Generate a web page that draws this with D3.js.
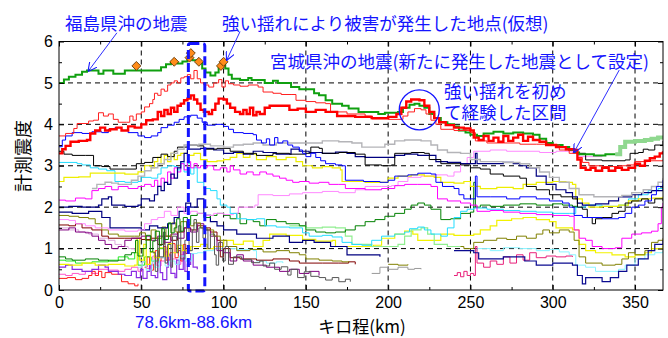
<!DOCTYPE html>
<html>
<head>
<meta charset="utf-8">
<script src="https://cdn.jsdelivr.net/npm/d3@7"></script>
<style>
  body { margin: 0; background: #fff; }
  text { font-family: "Liberation Sans", Arial, sans-serif; }
  .jp { font-family: "Noto Sans CJK JP", sans-serif; }
  .jp-tight { font-family: "Liberation Sans", "Noto Sans CJK JP", sans-serif; }
</style>
</head>
<body>
<div id="chart"></div>
<script>
// ---- data: [km, seismic intensity] ----
const xTicks = [0, 50, 100, 150, 200, 250, 300, 350];
const yTicks = [0, 1, 2, 3, 4, 5, 6];

const greenFukushima = [[0,5.0],[3,5.08],[6,5.15],[10,5.2],[14,5.27],[17,5.3],[22,5.3],[24,5.22],[27,5.3],[31,5.3],[33,5.22],[38,5.22],[40,5.3],[47,5.3],[52,5.3],[57,5.3],[62,5.38],[65,5.45],[68,5.5],[72,5.47],[75,5.52],[78,5.6],[81,5.55],[84,5.48],[87,5.35],[89,5.25],[92,5.18],[95,5.25],[97,5.38],[99,5.45],[101,5.35],[103,5.2],[105,5.1],[110,5.07],[115,5.12],[117,5.07],[125,5.0],[130,5.05],[133,5.0],[141,4.9],[146,4.85],[152,4.85],[155,4.75],[158,4.7],[162,4.58],[166,4.5],[172,4.45],[176,4.38],[182,4.3],[190,4.3],[194,4.25],[198,4.28],[206,4.3],[209,4.4],[213,4.47],[216,4.5],[219,4.45],[222,4.4],[225,4.25],[228,4.15],[232,4.05],[236,4.0],[240,3.95],[243,3.85],[247,3.8],[250,3.75],[254,3.72],[258,3.78],[264,3.82],[270,3.78],[276,3.8],[282,3.78],[288,3.75],[292,3.65],[296,3.55],[300,3.5],[306,3.45],[310,3.38],[313,3.32],[316,3.28],[325,3.25],[332,3.28],[338,3.28]];
const greenFukushimaEnd = [[338,3.28],[341,3.45],[344,3.58],[350,3.6],[356,3.62],[360,3.65],[364,3.68],[367,3.72]];
const redMiyagiThick = [[0,3.3],[2,3.4],[4,3.48],[7,3.58],[12,3.6],[17,3.62],[19,3.78],[22,3.85],[25,3.92],[28,3.85],[31,3.88],[35,3.92],[38,3.85],[42,3.95],[46,3.92],[50,4.0],[53,4.1],[57,4.12],[60,4.3],[62,4.2],[64,4.35],[66,4.25],[68,4.4],[70,4.3],[72,4.45],[74,4.5],[76,4.58],[78,4.62],[80,4.7],[82,4.6],[84,4.5],[86,4.35],[88,4.3],[91,4.25],[93,4.35],[95,4.5],[97,4.62],[100,4.6],[102,4.5],[104,4.4],[107,4.3],[110,4.25],[112,4.35],[114,4.25],[116,4.4],[118,4.22],[120,4.3],[122,4.25],[125,4.4],[128,4.45],[135,4.45],[140,4.35],[145,4.38],[150,4.3],[156,4.35],[162,4.3],[169,4.2],[180,4.18],[190,4.15],[200,4.18],[205,4.25],[208,4.4],[211,4.55],[214,4.6],[219,4.58],[222,4.45],[225,4.3],[228,4.15],[231,4.05],[235,3.98],[240,3.92],[246,3.9],[250,3.85],[252,3.68],[255,3.62],[258,3.72],[261,3.6],[264,3.68],[267,3.58],[270,3.72],[273,3.6],[276,3.68],[279,3.75],[282,3.6],[285,3.7],[288,3.62],[292,3.58],[296,3.5],[302,3.45],[308,3.4],[313,3.38],[315,3.15],[317,2.95],[320,2.9],[323,2.95],[326,2.88],[330,2.95],[334,2.88],[338,2.95],[342,2.9],[346,2.95],[350,3.05],[353,3.0],[356,3.12],[359,3.18],[362,3.22],[365,3.3],[367,3.35]];
const redThin = [[0,3.72],[4,3.78],[9,3.9],[11,4.02],[18,4.08],[21,4.1],[24,4.28],[27,4.2],[30,4.25],[33,4.12],[36,4.05],[41,4.05],[43,4.2],[45,4.1],[47,4.25],[50,4.3],[52,4.42],[55,4.5],[57,4.6],[58,4.75],[60,4.7],[62,4.85],[64,4.8],[66,4.95],[68,5.0],[70,5.05],[72,5.0],[74,5.12],[76,5.15],[78,5.2],[80,5.1],[82,5.3],[84,5.1],[86,5.0],[88,4.95],[91,4.9],[94,5.0],[97,5.08],[99,4.9],[101,5.05],[103,4.98],[106,4.95],[110,4.92],[115,4.95],[121,4.9],[124,4.78],[130,4.75],[135,4.72],[141,4.72],[144,4.58],[150,4.55],[156,4.52],[162,4.5],[165,4.3],[175,4.25],[186,4.2],[190,4.13],[200,4.12],[206,4.12],[209,4.2],[212,4.3],[216,4.38],[220,4.35],[223,4.25],[226,4.1],[229,4.0],[232,3.88],[240,3.85],[250,3.8],[253,3.6],[260,3.55],[270,3.55],[280,3.52],[290,3.52],[298,3.5],[304,3.38],[310,3.3],[315,3.2],[318,3.08],[322,3.0],[330,2.98],[340,3.0],[345,3.02],[350,3.1],[358,3.12],[367,3.15]];
const blueLine = [[0,3.46],[2,3.62],[4,3.72],[8,3.8],[14,3.78],[20,3.82],[26,3.8],[30,3.88],[34,3.92],[38,3.85],[42,3.8],[48,3.72],[52,3.68],[56,3.72],[60,3.8],[62,3.92],[66,3.98],[70,4.05],[73,4.12],[76,4.18],[80,4.22],[84,4.15],[87,4.05],[90,3.98],[95,4.0],[100,3.95],[103,3.88],[106,3.8],[112,3.78],[118,3.75],[120,3.62],[123,3.55],[126,3.65],[128,3.5],[131,3.68],[133,3.55],[136,3.6],[139,3.5],[142,3.45],[146,3.38],[148,3.3],[150,3.22],[153,3.3],[156,3.2],[159,3.12],[162,3.05],[168,3.02],[172,3.0],[174,2.65],[185,2.62],[195,2.6],[200,2.65],[204,2.75],[212,2.78],[218,2.82],[226,2.8],[229,2.6],[233,2.5],[240,2.45],[243,2.3],[246,2.2],[251,2.2],[253,2.75],[254,2.25],[262,2.25],[272,2.2],[280,2.25],[290,2.2],[298,2.15],[306,2.1],[310,2.0],[313,1.8],[318,1.75],[330,1.72],[340,1.75],[344,1.85],[348,2.0],[352,2.05],[356,2.15],[360,2.3],[363,2.5],[367,2.65]];
const grayLine = [[20,2.45],[23,2.55],[28,2.6],[32,2.58],[36,2.55],[44,2.65],[48,2.75],[52,2.88],[56,2.95],[60,3.05],[64,3.15],[68,3.3],[72,3.4],[76,3.5],[85,3.52],[92,3.48],[100,3.45],[106,3.5],[112,3.52],[118,3.55],[124,3.5],[132,3.55],[140,3.55],[150,3.55],[160,3.6],[170,3.58],[178,3.55],[184,3.45],[192,3.45],[198,3.52],[204,3.6],[210,3.62],[220,3.6],[226,3.5],[230,3.38],[236,3.32],[244,3.3],[250,3.15],[256,3.1],[270,3.08],[280,3.05],[286,2.95],[292,2.85],[298,2.72],[304,2.6],[310,2.45],[316,2.3],[325,2.25],[335,2.25],[342,2.28],[348,2.35],[355,2.42],[360,2.5],[364,2.6],[367,2.7]];
const blackUpper = [[0,3.35],[3,3.28],[8,3.25],[16,3.25],[21,3.0],[26,2.98],[31,2.92],[40,2.92],[47,3.05],[52,3.08],[57,3.2],[62,3.28],[66,3.22],[70,3.35],[72,3.45],[78,3.5],[84,3.48],[88,3.4],[96,3.42],[104,3.35],[112,3.3],[120,3.25],[130,3.3],[140,3.28],[150,3.3],[153,3.45],[158,3.42],[160,3.3],[170,3.32],[180,3.28],[186,3.02],[196,3.0],[202,3.02],[204,3.3],[214,3.32],[222,3.3],[225,3.15],[232,3.05],[244,3.02],[250,2.95],[256,2.92],[262,2.8],[270,2.75],[280,2.7],[284,2.5],[290,2.42],[298,2.3],[305,2.25],[312,2.2],[315,2.0],[318,1.95],[321,1.75],[324,1.6],[326,1.72],[330,1.75],[336,1.85],[340,1.9],[344,2.1],[348,2.15],[354,2.2],[358,2.1],[362,2.2],[367,2.15]];
const blackRight = [[316,3.3],[320,3.14],[330,3.12],[344,3.14],[347,3.3],[352,3.32],[355,3.4],[358,3.38],[362,3.5],[367,3.6]];
const navyUpper = [[0,2.0],[6,2.02],[14,2.0],[24,2.05],[26,2.2],[30,2.25],[32,2.05],[40,2.02],[48,2.05],[50,2.2],[55,2.15],[58,2.3],[60,2.5],[62,2.4],[64,2.6],[66,2.55],[68,2.8],[70,2.7],[72,2.95],[74,3.1],[76,3.3],[78,3.4],[86,3.42],[94,3.38],[100,3.3],[106,3.32],[112,3.28],[118,3.35],[124,3.32],[132,3.28],[141,3.4],[146,3.35],[152,3.32],[160,3.3],[168,3.33],[175,3.3],[180,3.22],[186,3.2],[196,3.2],[204,3.25],[210,3.28],[218,3.25],[226,3.25],[229,3.1],[236,3.08],[244,3.05],[250,3.05],[253,3.3],[254,3.05],[262,3.05],[270,3.08],[276,3.05],[280,3.0],[284,2.95],[290,2.75],[296,2.55],[302,2.42],[308,2.35],[312,2.25],[315,2.1],[318,2.05],[326,2.08],[334,2.15],[340,2.25],[348,2.3],[354,2.35],[360,2.4],[367,2.55]];
const navyLower = [[0,1.88],[8,1.85],[18,1.9],[26,1.75],[31,1.5],[50,1.45],[55,1.55],[60,1.5],[66,1.6],[70,1.75],[73,1.9],[77,2.1],[80,2.0],[84,2.2],[88,1.8],[92,1.65],[96,1.55],[100,1.45],[108,1.35],[120,1.25],[130,1.3],[140,1.15],[148,1.2],[155,1.15],[165,1.05],[175,0.85],[190,0.85],[195,0.8]];
const navyRight = [[240,0.95],[252,0.9],[255,0.75],[270,0.8],[283,0.7],[290,0.6],[300,0.65],[312,0.6],[315,0.35],[318,0.15],[320,0.3],[330,0.2],[335,0.3],[340,0.45],[345,0.6],[352,0.75],[358,0.95],[362,1.1],[367,1.2]];
const yellowUpper = [[0,2.62],[3,2.72],[12,2.73],[19,2.82],[30,2.82],[40,2.8],[48,2.85],[52,3.0],[56,2.95],[58,3.1],[60,3.2],[62,3.05],[64,3.25],[66,3.1],[68,3.3],[70,3.15],[72,3.25],[74,3.3],[78,3.25],[82,3.3],[86,3.15],[90,3.1],[96,3.12],[100,3.15],[104,3.2],[108,3.3],[112,3.2],[116,3.28],[120,3.15],[126,3.22],[132,3.15],[138,3.2],[144,3.1],[148,3.0],[154,2.95],[160,2.98],[166,2.95],[171,2.9],[172,2.62],[186,2.6],[196,2.6],[200,2.7],[206,2.75],[214,2.78],[222,2.75],[228,2.72],[232,2.6],[240,2.58],[246,2.62],[250,2.5],[256,2.45],[266,2.48],[276,2.45],[282,2.55],[290,2.6],[300,2.62],[308,2.6],[312,2.55],[314,2.2],[318,2.1],[322,2.0],[330,2.02],[340,2.05],[346,2.15],[352,2.2],[360,2.22],[367,2.25]];
const yellowLower = [[0,0.62],[6,0.6],[14,0.65],[22,0.6],[30,0.62],[40,0.58],[46,0.6],[47.5,1.25],[49,0.72],[51.5,1.1],[53,0.62],[55.5,0.92],[58,0.78],[61,1.02],[64,0.82],[66.5,1.12],[69,0.9],[72,1.08],[75,0.95],[80,1.05],[86,1.1],[90,1.0],[94,1.05],[100,1.2],[106,1.1],[112,1.18],[118,1.05],[124,1.2],[128,1.35],[138,1.32],[148,1.22],[156,1.18],[166,1.2],[168,1.05],[180,1.05],[191,1.08],[196,1.25],[204,1.35],[210,1.42],[215,1.35],[218,1.2],[226,1.2],[232,1.35],[240,1.32],[252,1.35],[256,1.45],[262,1.55],[266,1.68],[275,1.72],[282,1.75],[290,1.7],[298,1.65],[302,1.5],[312,1.45],[316,1.1],[320,0.95],[326,0.9],[336,0.85],[344,0.8],[350,0.85],[356,0.9],[360,1.0],[367,1.1]];
const cyanUpper = [[0,3.08],[11,3.05],[14,3.02],[19,2.95],[24,2.92],[29,2.88],[34,2.62],[40,2.6],[48,2.62],[50,2.72],[56,2.7],[60,2.8],[62,2.95],[66,3.0],[70,2.98],[72,2.9],[74,3.1],[76,2.85],[78,3.05],[80,2.8],[82,2.95],[84,2.6],[88,2.45],[92,2.4],[96,2.2],[98,2.05],[102,2.0],[104,1.85],[108,1.72],[114,1.7],[120,1.72],[125,1.55],[132,1.52],[140,1.5],[148,1.38],[152,1.3],[160,1.32],[166,1.28],[172,1.15],[178,1.1],[184,1.08],[190,1.2],[196,1.3],[204,1.35],[210,1.4],[213,1.48],[218,1.52],[222,1.45],[226,1.35],[232,1.3],[236,1.5],[240,1.75],[244,1.9],[248,1.95],[252,1.98],[260,1.95],[270,1.92],[280,1.9],[290,1.88],[300,1.85],[310,1.85],[314,2.0],[320,2.05],[330,2.02],[340,2.05],[346,2.2],[352,2.3],[358,2.4],[364,2.45],[367,2.5]];
const cyanLight = [[48,0.55],[50.5,0.68],[53,0.48],[56.5,0.72],[58,0.55],[61,0.78],[64.5,0.58],[67,0.7],[70.5,0.62],[73,0.82],[77,0.7],[80.5,0.88],[84,0.9],[88,0.95],[94,1.0],[108,0.98],[118,0.95],[120,0.7],[126,0.65],[132,0.68],[136,0.65],[136,null],[250,0.95],[254,1.0],[262,0.95],[270,1.02],[280,1.0],[290,0.95],[298,0.98],[304,0.92],[310,0.85],[314,0.6],[320,0.55],[326,0.45],[336,0.45],[340,0.5],[344,0.6],[350,0.75],[356,0.85],[362,0.9],[367,0.95]];
const magentaLine = [[0,2.17],[4,2.15],[10,2.22],[16,2.2],[20,2.4],[24,2.45],[28,2.5],[32,2.42],[36,2.5],[42,2.45],[48,2.5],[52,2.55],[56,2.5],[58,2.65],[60,2.5],[62,2.7],[64,2.6],[66,2.85],[68,2.7],[70,2.95],[72,2.85],[74,3.05],[76,2.9],[78,3.1],[80,2.95],[82,3.05],[84,2.95],[86,3.0],[88,2.95],[90,3.0],[94,2.9],[98,2.95],[102,2.85],[104,3.0],[106,2.9],[110,2.8],[114,2.85],[118,2.78],[122,2.85],[126,2.8],[130,2.75],[134,2.7],[138,2.65],[142,2.6],[146,2.62],[152,2.58],[158,2.6],[164,2.55],[170,2.55],[174,2.45],[186,2.42],[196,2.45],[204,2.52],[210,2.55],[218,2.55],[226,2.5],[230,2.2],[236,2.15],[244,2.1],[250,2.05],[254,1.9],[262,1.92],[270,1.88],[280,1.85],[290,1.82],[300,1.8],[310,1.78],[313,1.45],[316,1.25],[320,1.2],[324,1.05],[330,1.0],[338,1.02],[342,1.25],[348,1.35],[354,1.38],[360,1.42],[364,1.6],[366,2.0],[367,2.1]];
const pinkLight = [[0,1.7],[6,1.68],[10,1.6],[16,1.55],[22,1.5],[30,1.45],[40,1.42],[48,1.45],[52,1.6],[56,1.7],[60,1.75],[64,1.9],[68,1.8],[72,2.0],[76,1.85],[80,1.9],[84,1.85],[88,1.8],[94,1.85],[100,1.82],[106,1.85],[109,2.0],[119,2.05],[121,2.3],[130,2.28],[140,2.32],[148,2.35],[160,2.38],[170,2.35],[180,2.42],[186,2.5],[196,2.5],[202,2.52],[206,2.62],[212,2.72],[220,2.75],[228,2.78],[236,2.75],[240,2.85],[244,3.05],[248,3.2],[252,3.35],[262,3.38],[272,3.35],[282,3.35],[292,3.32],[302,3.35],[312,3.3],[316,3.22],[322,3.22],[330,3.25]];
const greenDark = [[0,0.8],[4,0.75],[8,0.72],[16,0.75],[24,0.72],[30,0.7],[36,0.72],[40,0.85],[44,0.9],[46.5,1.2],[48,0.82],[51,1.0],[53,1.32],[55.5,0.92],[57,1.18],[58.5,1.42],[61,1.08],[62.5,1.48],[64,1.22],[66.5,1.62],[68,1.38],[70,1.5],[71.5,1.72],[73.5,1.42],[75.5,1.75],[78,1.58],[80,1.8],[84,1.85],[88,1.75],[92,1.8],[96,1.85],[100,1.8],[104,1.72],[108,1.85],[110,1.6],[114,1.7],[118,1.65],[122,1.55],[126,1.7],[132,1.65],[138,1.6],[146,1.55],[150,1.45],[156,1.4],[162,1.38],[168,1.4],[174,1.45],[180,1.55],[186,1.65],[192,1.7],[198,1.78],[204,1.85],[210,1.95],[214,2.05],[218,2.1],[222,2.05],[226,1.95],[232,1.7],[238,1.72],[244,1.85],[250,1.88],[252,2.6],[253,2.0],[256,2.05],[262,2.02],[270,2.05],[280,2.08],[290,2.05],[300,2.08],[306,2.05],[312,2.02],[315,2.0]];
const greenPale = [[140,1.55],[150,1.5],[160,1.52],[168,1.5],[174,1.3],[178,1.1],[190,1.05],[200,1.05],[206,1.1],[210,1.3],[214,1.45],[220,1.5],[224,1.35],[228,1.1],[236,1.05],[244,1.05]];
const limeLine = [[0,0.72],[4,0.7],[10,0.65],[20,0.68],[30,0.72],[36,0.8],[42,0.75],[46,0.9],[48,0.6],[52,0.8],[56,0.7],[60,1.0],[64,0.85]];
const oliveLine = [[0,1.8],[6,1.78],[12,1.75],[18,1.72],[22,1.6],[26,1.45],[30,1.35],[36,1.3],[46,1.3],[49,1.38],[52.5,1.2],[56,1.45],[59,1.25],[62.5,1.52],[65,1.3],[68.5,1.62],[71,1.4],[74,1.65],[78,1.55],[82,1.62],[86,1.5],[90,1.45],[94,1.3],[98,1.2],[102,1.05],[108,0.95],[116,0.98],[124,0.92],[132,0.95],[140,0.9],[146,0.85],[150,0.75],[158,0.72],[166,0.7],[172,0.68],[176,0.7],[176,null],[200,0.62],[206,0.6],[212,0.62],[212,null],[240,1.05],[246,1.0],[252,1.15],[258,1.2],[266,1.25],[272,1.22],[278,1.3],[284,1.25],[290,1.35],[294,1.45],[298,1.38],[304,1.45],[310,1.4],[313,1.2],[316,0.8],[320,0.65],[330,0.6],[338,0.62],[342,0.75],[346,0.9],[350,0.85],[356,0.95],[360,1.15],[364,1.2],[367,1.25]];
const maroonLine = [[0,1.57],[6,1.55],[10,1.6],[14,1.5],[20,1.45],[26,1.3],[30,1.25],[40,1.25],[50,1.22],[56,1.25],[60,1.1],[64,1.3],[68,1.2],[72,1.4],[76,1.5],[80,1.45],[84,1.55],[88,1.5],[92,1.4],[96,1.2],[98,0.8],[100,1.0],[104,0.78],[110,0.75],[120,0.72],[130,0.75],[140,0.7],[146,0.65],[160,0.65],[170,0.65],[176,0.68],[180,0.62]];
const darkGrayLine = [[57,0.9],[58.5,0.45],[60,1.25],[61,0.8],[63.5,1.4],[64.5,0.65],[66,1.1],[68,0.55],[69,1.3],[71.5,0.9],[72.5,1.55],[74,0.75],[76.5,1.2],[77.5,1.65],[79,0.95],[81,1.45],[82,1.7],[83.5,1.15],[85,1.5],[87.5,1.25],[89,1.45],[90.5,1.0],[92,1.35],[94.5,0.85],[95.5,0.6],[97,1.15],[99.5,0.7],[101,1.05],[103,0.62],[106,0.8],[111,0.74],[117,0.66],[122,0.7],[124,0.58],[128,0.65],[131,0.5],[135,0.56],[139,0.36],[141,0.5],[145,0.3],[149,0.44],[153,0.33],[158,0.3],[162,0.24],[166,0.3],[170,0.2],[174,0.26],[177,0.2]];
const grayLow = [[190,0.4],[195,0.55],[200,0.5],[206,0.55],[212,0.5],[216,0.52],[220,0.5]];
const purpleLine = [[0,0.55],[4,0.6],[8,0.5],[14,0.45],[20,0.5],[24,0.6],[28,0.55],[30,0.45],[36,0.38],[40,0.35],[44,0.45],[47,0.3],[49.5,0.5],[51,0.28],[53.5,0.45],[55,0.62],[56,0.35],[58.5,0.3],[60,0.68],[61.5,0.42],[63,0.25],[65.5,0.55],[66.5,0.85],[68,0.4],[70.5,0.3],[71.5,0.72],[73,0.5],[75.5,0.95],[76.5,0.45],[78,0.62],[80,0.88],[81.5,0.55],[84,0.5]];
const darkPurple = [[0,1.45],[6,1.5],[10,1.4],[16,1.38],[20,1.3],[24,1.2],[28,1.1],[32,1.0],[36,1.05],[40,1.2],[44,1.25],[50,1.3],[56,1.2],[60,1.3],[64,1.15],[68,1.35],[72,1.25],[76,1.5],[80,1.4],[84,1.6],[88,1.45],[92,1.3],[96,0.95],[100,0.9],[104,0.7],[108,0.85],[112,0.7],[118,0.6],[126,0.55],[134,0.45],[140,0.5],[146,0.4],[152,0.45],[158,0.35]];
const thistleLine = [[0,1.5],[6,1.45],[12,1.4],[18,1.35],[24,1.25],[30,1.2],[34,1.1],[38,1.05],[42,1.0],[46,0.95]];
const redLower = [[0,0.28],[5,0.3],[10,0.25],[14,0.28],[18,0.35],[20,0.45],[22,0.35],[24,0.45],[26,0.3],[28,0.42],[32,0.38],[38,0.2],[42,0.15],[46,0.1],[48,0.15],[48,null],[52,0.55],[53.5,0.8],[55,0.48],[57.5,0.62],[58.5,0.95],[60.5,0.7],[62,0.78],[63.5,1.05],[65,0.72],[67.5,0.9],[69,1.12],[70.5,0.78],[72.5,0.95],[74,0.7],[75.5,1.1],[77,0.88],[78,1.0]];
const pinkLower = [[0,0.38],[4,0.35],[8,0.4],[12,0.38],[16,0.45],[20,0.4],[24,0.5],[30,0.48],[36,0.45],[40,0.5],[44,0.55],[48,0.45],[50.5,0.68],[53,0.52],[55.5,0.6],[57,0.82],[59.5,0.58],[62,0.7],[64.5,0.92],[66,0.6],[69,0.75],[71.5,0.62],[74,0.85],[76,0.8]];
const crimsonLine = [[240,0.35],[242,0.42],[244,0.32],[246,0.45],[248,0.35],[250,0.4],[252,0.35],[253,1.05],[254,0.65],[258,0.55],[262,0.7],[266,0.62],[270,0.8],[274,0.65],[278,0.85],[282,0.72],[286,0.9],[290,0.78],[296,0.82],[302,0.8],[308,0.82],[312,0.8]];

// damaged points (orange diamonds)
const damageKm = [47, 70, 79.3, 80.1, 85, 98.4, 100];
const damageVal = [5.41, 5.51, 5.61, 5.72, 5.51, 5.41, 5.51];

// first strong shaking section (dashed box)
const sectionKm = [78.6, 88.6];

// drawing order and styles
const seriesList = [
  { data: thistleLine, color: '#dca8dc', width: 1 },
  { data: pinkLower, color: '#ff55cc', width: 1 },
  { data: redLower, color: '#ff1a1a', width: 1 },
  { data: limeLine, color: '#22e822', width: 1 },
  { data: purpleLine, color: '#8a2be2', width: 1.2 },
  { data: cyanLight, color: '#88f4ff', width: 1 },
  { data: yellowLower, color: '#f2f200', width: 1.2 },
  { data: maroonLine, color: '#800000', width: 1 },
  { data: darkPurple, color: '#800080', width: 1 },
  { data: oliveLine, color: '#808000', width: 1 },
  { data: darkGrayLine, color: '#555555', width: 1 },
  { data: grayLow, color: '#999999', width: 1 },
  { data: crimsonLine, color: '#e8207a', width: 1 },
  { data: navyRight, color: '#0a0a90', width: 1.2 },
  { data: navyLower, color: '#000080', width: 1.2 },
  { data: greenPale, color: '#90ee90', width: 1.2 },
  { data: greenDark, color: '#008000', width: 1 },
  { data: pinkLight, color: '#ff88ff', width: 1 },
  { data: cyanUpper, color: '#22ddff', width: 1 },
  { data: magentaLine, color: '#ff00ff', width: 1 },
  { data: yellowUpper, color: '#eeee00', width: 1.2 },
  { data: navyUpper, color: '#000080', width: 1.2 },
  { data: blackUpper, color: '#000000', width: 1 },
  { data: blackRight, color: '#000000', width: 1 },
  { data: grayLine, color: '#b4b4b8', width: 1.4 },
  { data: blueLine, color: '#0000ff', width: 1 },
  { data: greenFukushimaEnd, color: '#8fd88f', width: 4 },
  { data: greenFukushima, color: '#10a010', width: 2 },
  { data: redThin, color: '#ff2020', width: 1 },
  { data: redMiyagiThick, color: '#ff0000', width: 2.4 }
];

// ---- layout ----
const W = 668, H = 338;
const plotL = 59, plotR = 663, plotT = 41.5, plotB = 290;
const noteBlue = '#1414ff';

const x = d3.scaleLinear().domain([0, 367]).range([plotL, plotR]);
const y = d3.scaleLinear().domain([0, 6]).range([plotB, plotT]);

const svg = d3.select('#chart').append('svg')
  .attr('width', W).attr('height', H)
  .attr('viewBox', `0 0 ${W} ${H}`);

const defs = svg.append('defs');
defs.append('clipPath').attr('id', 'plot')
  .append('rect').attr('x', plotL).attr('y', plotT).attr('width', plotR - plotL).attr('height', plotB - plotT);

const arrow = defs.append('marker')
  .attr('id', 'arrow').attr('viewBox', '0 0 10 10')
  .attr('refX', 9).attr('refY', 5)
  .attr('markerWidth', 9).attr('markerHeight', 9)
  .attr('markerUnits', 'userSpaceOnUse')
  .attr('orient', 'auto');
arrow.append('path').attr('d', 'M0,0 L10,5 L0,10').attr('fill', 'none').attr('stroke', noteBlue).attr('stroke-width', 1.2);

// grid
const grid = svg.append('g').attr('stroke', '#000').attr('stroke-width', 1).attr('stroke-dasharray', '5,4');
grid.selectAll('.gx').data(xTicks.filter(d => d > 0)).join('line')
  .attr('x1', d => x(d)).attr('x2', d => x(d)).attr('y1', plotT).attr('y2', plotB);
grid.selectAll('.gy').data(yTicks.filter(d => d > 0 && d < 6)).join('line')
  .attr('x1', plotL).attr('x2', plotR).attr('y1', d => y(d)).attr('y2', d => y(d));

// lines
const line = d3.line()
  .defined(d => d[1] != null)
  .x(d => x(d[0]))
  .y(d => y(d[1]))
  .curve(d3.curveStepAfter);

const plot = svg.append('g').attr('clip-path', 'url(#plot)');
seriesList.forEach(s => {
  plot.append('path')
    .attr('d', line(s.data))
    .attr('fill', 'none')
    .attr('stroke', s.color)
    .attr('stroke-width', s.width);
});

// diamonds
plot.selectAll('.dmg').data(damageKm).join('path')
  .attr('d', d3.symbol(d3.symbolSquare, 40))
  .attr('transform', (d, i) => `translate(${x(d)},${y(damageVal[i])}) rotate(45)`)
  .attr('fill', '#ff8c1a').attr('stroke', '#5a3000').attr('stroke-width', 0.8);

// dashed section box
svg.append('rect')
  .attr('x', x(sectionKm[0])).attr('width', x(sectionKm[1]) - x(sectionKm[0]))
  .attr('y', plotT + 2).attr('height', plotB - plotT - 1)
  .attr('rx', 2)
  .attr('fill', 'none').attr('stroke', noteBlue).attr('stroke-width', 3).attr('stroke-dasharray', '9,4');

// frame
svg.append('rect').attr('x', plotL).attr('y', plotT).attr('width', plotR - plotL).attr('height', plotB - plotT)
  .attr('fill', 'none').attr('stroke', '#000').attr('stroke-width', 1);

// axes with inward ticks
const minorX = d3.range(25, 367, 50);
const minorY = d3.range(0.5, 6, 1);
const axisStyle = g => { g.select('.domain').remove(); g.selectAll('line').attr('stroke', '#000'); };
const labelStyle = g => g.selectAll('text').attr('font-size', 16).attr('fill', '#000')
  .attr('font-family', '"Liberation Sans", Arial, sans-serif');

svg.append('g').attr('transform', `translate(0,${plotB})`)
  .call(d3.axisBottom(x).tickValues(xTicks).tickSize(-5).tickPadding(7).tickFormat(d3.format('d')))
  .call(axisStyle).call(labelStyle);
svg.append('g').attr('transform', `translate(0,${plotB})`)
  .call(d3.axisBottom(x).tickValues(minorX).tickSize(-3).tickFormat(''))
  .call(axisStyle);
svg.append('g').attr('transform', `translate(0,${plotT})`)
  .call(d3.axisTop(x).tickValues(xTicks).tickSize(-5).tickFormat(''))
  .call(axisStyle);
svg.append('g').attr('transform', `translate(0,${plotT})`)
  .call(d3.axisTop(x).tickValues(minorX).tickSize(-3).tickFormat(''))
  .call(axisStyle);

svg.append('g').attr('transform', `translate(${plotL},0)`)
  .call(d3.axisLeft(y).tickValues(yTicks).tickSize(-5).tickPadding(6).tickFormat(d3.format('d')))
  .call(axisStyle).call(labelStyle);
svg.append('g').attr('transform', `translate(${plotL},0)`)
  .call(d3.axisLeft(y).tickValues(minorY).tickSize(-3).tickFormat(''))
  .call(axisStyle);
svg.append('g').attr('transform', `translate(${plotR},0)`)
  .call(d3.axisRight(y).tickValues(yTicks).tickSize(-5).tickFormat(''))
  .call(axisStyle);
svg.append('g').attr('transform', `translate(${plotR},0)`)
  .call(d3.axisRight(y).tickValues(minorY).tickSize(-3).tickFormat(''))
  .call(axisStyle);

// axis titles
svg.append('text').attr('class', 'jp')
  .attr('x', 362).attr('y', 333).attr('text-anchor', 'middle')
  .attr('font-size', 17).attr('fill', '#000').text('キロ程(km)');
svg.append('text').attr('class', 'jp')
  .attr('transform', 'translate(30,156) rotate(-90)').attr('text-anchor', 'middle')
  .attr('font-size', 18).attr('fill', '#000').text('計測震度');

// annotations
svg.append('text')
  .attr('x', x((sectionKm[0] + sectionKm[1]) / 2) - 3).attr('y', 327.5).attr('text-anchor', 'middle')
  .attr('font-size', 17).attr('fill', noteBlue).text(`${sectionKm[0]}km-${sectionKm[1]}km`);

const notes = [
  { text: '福島県沖の地震', px: 65, py: 30, cls: 'jp' },
  { text: '強い揺れにより被害が発生した地点(仮想)', px: 222, py: 30, cls: 'jp' },
  { text: '宮城県沖の地震(新たに発生した地震として設定)', px: 270, py: 68, cls: 'jp' },
  { text: '強い揺れを初め', px: 444, py: 98, cls: 'jp-tight' },
  { text: 'て経験した区間', px: 444, py: 119, cls: 'jp-tight' }
];
svg.selectAll('.note').data(notes).join('text')
  .attr('class', d => d.cls)
  .attr('x', d => d.px).attr('y', d => d.py)
  .attr('font-size', 17.5).attr('fill', noteBlue)
  .text(d => d.text);

// arrows: [from km, from val, to km, to val]
const arrows = [
  [35.2, 6.21, 17.9, 5.29],
  [110, 6.24, 102, 5.56],
  [340.4, 5.31, 313, 3.33]
];
svg.selectAll('.arr').data(arrows).join('line')
  .attr('x1', d => x(d[0])).attr('y1', d => y(d[1]))
  .attr('x2', d => x(d[2])).attr('y2', d => y(d[3]))
  .attr('stroke', noteBlue).attr('stroke-width', 0.9)
  .attr('marker-end', 'url(#arrow)');

// circle around first strong shaking section
svg.append('circle')
  .attr('cx', x(218.9)).attr('cy', y(4.35)).attr('r', 20)
  .attr('fill', 'none').attr('stroke', noteBlue).attr('stroke-width', 1.3);
</script>
</body>
</html>
